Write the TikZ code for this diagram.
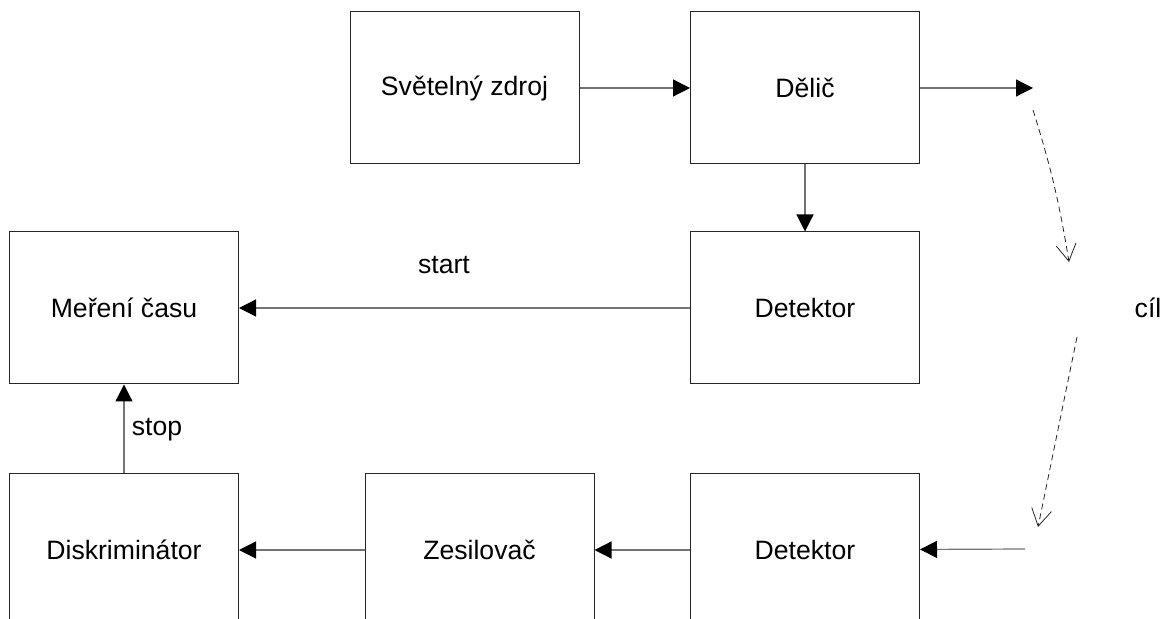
\documentclass[tikz,border=0pt]{standalone}
\usepackage{fontspec}
\setmainfont{Liberation Sans}
\usetikzlibrary{arrows.meta, positioning}

\begin{document}
\begin{tikzpicture}[x=0.5pt,y=-0.5pt,font=\fontsize{13.3}{16}\selectfont,
    >={Triangle[length=8.5pt,width=8.5pt,color=black,fill=black]}]
  \tikzstyle{block}=[draw=black!85,line width=0.5pt,minimum width=114.5pt,minimum height=76pt,inner sep=0pt]
  \tikzstyle{wire}=[color=black!55,line width=0.6pt]
  \tikzstyle{beam}=[color=black!85,line width=0.4pt,dash pattern=on 3pt off 2pt,
    -{Straight Barb[length=8.5pt,width=10pt]}]

  \useasboundingbox (0,0) rectangle (1172,619);
  \clip (0,0) rectangle (1172,619);

  % upper branch
  \node[block] (src)   at (464.5,88) {Světelný zdroj};
  \node[block] (split) at (805,88)   {Dělič};
  \node[block] (det1)  at (805,308)  {Detektor};
  \node[block] (time)  at (124,308)  {Meření času};

  % lower branch
  \node[block] (disc)  at (124,550)  {Diskriminátor};
  \node[block] (amp)   at (479.5,550) {Zesilovač};
  \node[block] (det2)  at (805,550)  {Detektor};

  \node (target) at (1148,308) {cíl};
  \node (startlbl) at (444,265) {start};
  \node (stoplbl)  at (157,430) {stop};

  % free ends of the beam
  \coordinate (out) at (1033,88);
  \coordinate (b1)  at (1033,110);
  \coordinate (b2)  at (1069,262);
  \coordinate (b3)  at (1077,337);
  \coordinate (b4)  at (1038,527);
  \coordinate (back) at (1025,549);

  \path[->,wire]
  (src)   edge (split)
  (split) edge (out)
  (split) edge (det1)
  (det1)  edge (time)
  (back)  edge (det2)
  (det2)  edge (amp)
  (amp)   edge (disc)
  (disc)  edge (time)
  ;

  \path
  (b1) edge[beam,bend left=4] (b2)
  (b3) edge[beam] (b4)
  ;
\end{tikzpicture}
\end{document}
